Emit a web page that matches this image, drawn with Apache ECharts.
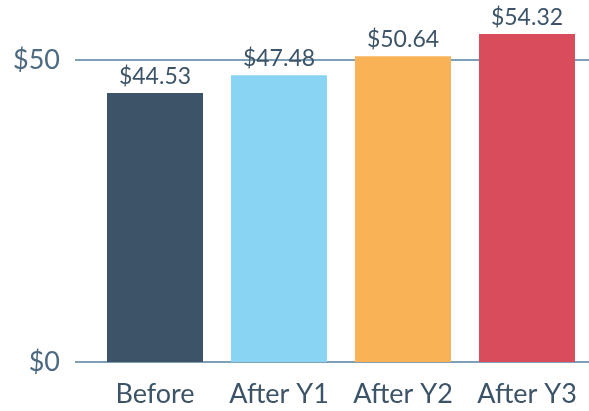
<!DOCTYPE html>
<html>
<head>
<meta charset="utf-8">
<script src="https://cdn.jsdelivr.net/npm/echarts@6/dist/echarts.min.js"></script>
<style>
  html, body { margin: 0; padding: 0; background: #fff; }
  #chart { width: 589px; height: 411px; }
</style>
</head>
<body>
<div id="chart"></div>
<script>
  var categories = ['Before', 'After Y1', 'After Y2', 'After Y3'];
  var values = [44.53, 47.48, 50.64, 54.32];
  var barColors = ['#3d5368', '#89d3f3', '#f9b256', '#d84c5c'];

  var chart = echarts.init(document.getElementById('chart'));
  var font = 'Lato, "Open Sans", sans-serif';

  var option = {
    animation: false,
    grid: [
      // grid for the horizontal rules and y labels
      { left: 75, right: 0, top: 60, bottom: 49 },
      // grid for the bars
      { left: 93, right: 0, top: 60, bottom: 49 }
    ],
    xAxis: [
      { gridIndex: 0, type: 'category', data: [''], show: false },
      {
        gridIndex: 1,
        type: 'category',
        data: categories,
        axisLine: { show: false },
        axisTick: { show: false },
        axisLabel: {
          interval: 0,
          hideOverlap: false,
          color: '#3d5468',
          fontFamily: font,
          fontSize: 27,
          margin: 19
        }
      }
    ],
    yAxis: [
      {
        gridIndex: 0,
        type: 'value',
        min: 0,
        max: 50,
        interval: 50,
        axisLine: { show: false },
        axisTick: { show: false },
        splitLine: { lineStyle: { color: '#7e9fb6', width: 2 } },
        axisLabel: {
          color: '#4e6a80',
          fontFamily: font,
          fontSize: 27,
          margin: 15,
          formatter: function (v) { return '$' + v; }
        }
      },
      {
        gridIndex: 1,
        type: 'value',
        min: 0,
        max: 50,
        interval: 50,
        show: false
      }
    ],
    series: [{
      type: 'bar',
      xAxisIndex: 1,
      yAxisIndex: 1,
      data: values.map(function (v, i) {
        return { value: v, itemStyle: { color: barColors[i] } };
      }),
      barWidth: 96,
      clip: false,
      z: 3,
      label: {
        show: true,
        position: 'top',
        distance: 5,
        color: '#3d5468',
        fontFamily: font,
        fontSize: 23,
        formatter: function (p) { return '$' + p.value.toFixed(2); }
      }
    }]
  };

  chart.setOption(option);
</script>
</body>
</html>
